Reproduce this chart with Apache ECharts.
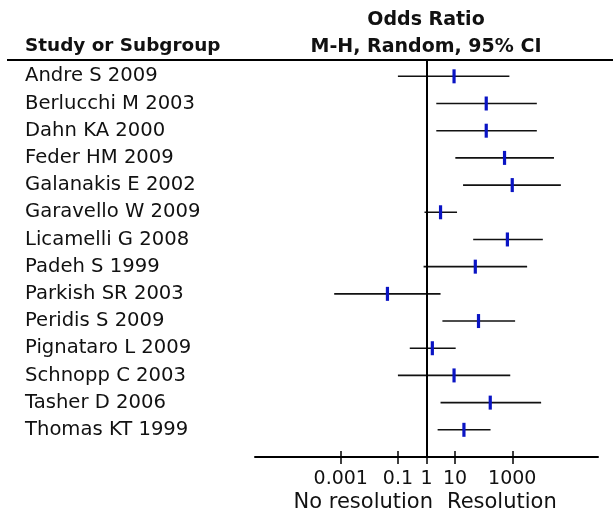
<!DOCTYPE html>
<html>
<head>
<meta charset="utf-8">
<script src="https://cdn.jsdelivr.net/npm/echarts@6/dist/echarts.min.js"></script>
<style>html,body{margin:0;padding:0;background:#fff}#c{width:613px;height:515px}</style>
</head>
<body>
<div id="c"></div>
<script>
const studies = ['Andre S 2009','Berlucchi M 2003','Dahn KA 2000','Feder HM 2009','Galanakis E 2002','Garavello W 2009','Licamelli G 2008','Padeh S 1999','Parkish SR 2003','Peridis S 2009','Pignataro L 2009','Schnopp C 2003','Tasher D 2006','Thomas KT 1999'];
const oddsRatio = [9.2, 123, 123, 537, 1000, 3.1, 676, 51, 0.043, 66, 1.6, 9.2, 170, 20.4];
const ciLower = [0.10, 2.2, 2.2, 10.2, 19, 0.85, 43, 0.79, 0.00059, 3.6, 0.26, 0.10, 3.1, 2.45];
const ciUpper = [794, 7244, 7244, 28840, 50119, 11.7, 11749, 3311, 3.1, 1259, 10.5, 851, 10233, 174];
const tickValues = [0.001, 0.1, 1, 10, 1000];
const tickLabels = ['0.001', '0.1', '1', '10', '1000'];

const FONT = 'DejaVu Sans';
const lg = v => Math.log10(v);
const tickLog = tickValues.map(lg);
const rows = studies.map((s, i) => [lg(ciLower[i]), lg(ciUpper[i]), lg(oddsRatio[i]), i]);

const chart = echarts.init(document.getElementById('c'), null, {renderer: 'canvas'});
chart.setOption({
  animation: false,
  backgroundColor: '#fff',
  grid: {left: 255, right: 15, top: 60, bottom: 58, containLabel: false},
  xAxis: [{
    type: 'value', min: -6, max: 6, position: 'bottom',
    splitLine: {show: false},
    axisLine: {show: true, onZero: false, lineStyle: {color: '#000', width: 2}},
    axisTick: {show: true, length: 7, customValues: tickLog, lineStyle: {color: '#000', width: 1.5}},
    axisLabel: {show: true, customValues: tickLog, margin: 13,
      formatter: v => { const k = tickLog.findIndex(t => Math.abs(t - v) < 1e-9); return k >= 0 ? tickLabels[k] : ''; },
      fontFamily: FONT, fontSize: 19, color: '#111'}
  }, {
    type: 'value', min: -6, max: 6, position: 'bottom', offset: 0,
    splitLine: {show: false},
    axisLine: {show: false, onZero: false},
    axisTick: {show: true, inside: true, length: 6, customValues: tickLog, lineStyle: {color: '#000', width: 1.5}},
    axisLabel: {show: false}
  }],
  yAxis: {
    type: 'value', inverse: true, min: -0.6, max: 14,
    splitLine: {show: false},
    axisLine: {show: false},
    axisTick: {show: false},
    axisLabel: {show: true, customValues: studies.map((s, i) => i), formatter: v => studies[v] || '',
      align: 'left', margin: 230, fontFamily: FONT, fontSize: 19.6, color: '#111'}
  },
  graphic: [
    {type: 'line', shape: {x1: 7, y1: 60, x2: 613, y2: 60}, style: {stroke: '#000', lineWidth: 2}},
    {type: 'text', x: 25, y: 46, style: {text: 'Study or Subgroup', font: 'bold 18.4px "DejaVu Sans"', fill: '#111', align: 'left', verticalAlign: 'middle'}},
    {type: 'text', x: 426, y: 20, style: {text: 'Odds Ratio', font: 'bold 19px "DejaVu Sans"', fill: '#111', align: 'center', verticalAlign: 'middle'}},
    {type: 'text', x: 426, y: 47, style: {text: 'M-H, Random, 95% CI', font: 'bold 19px "DejaVu Sans"', fill: '#111', align: 'center', verticalAlign: 'middle'}},
    {type: 'text', x: 433, y: 503, style: {text: 'No resolution', font: '21px "DejaVu Sans"', fill: '#111', align: 'right', verticalAlign: 'middle'}},
    {type: 'text', x: 447, y: 503, style: {text: 'Resolution', font: '21px "DejaVu Sans"', fill: '#111', align: 'left', verticalAlign: 'middle'}}
  ],
  series: [{
    type: 'custom',
    xAxisIndex: 0,
    data: rows,
    renderItem: (params, api) => {
      const y = api.value(3);
      const a = api.coord([api.value(0), y]);
      const b = api.coord([api.value(1), y]);
      const p = api.coord([api.value(2), y]);
      return {type: 'group', children: [
        {type: 'line', shape: {x1: a[0], y1: a[1], x2: b[0], y2: b[1]}, style: {stroke: '#111', lineWidth: 1.6}},
        {type: 'rect', shape: {x: p[0] - 1.6, y: p[1] - 7, width: 3.2, height: 14}, style: {fill: '#0a14c4'}}
      ]};
    },
    markLine: {silent: true, symbol: 'none', label: {show: false},
      lineStyle: {color: '#000', width: 2, type: 'solid'},
      data: [{xAxis: 0}]}
  }]
});
</script>
</body>
</html>
